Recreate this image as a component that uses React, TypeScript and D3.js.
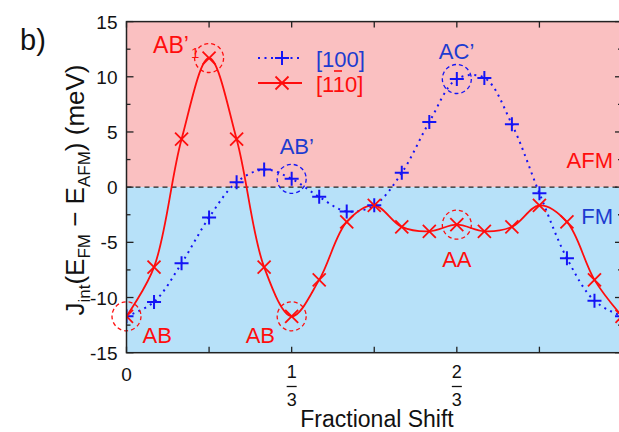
import React, { useEffect } from "react";
import * as d3 from "d3";

const shifts = [0, 1 / 18, 2 / 18, 3 / 18, 4 / 18, 5 / 18, 6 / 18, 7 / 18, 8 / 18, 9 / 18, 10 / 18, 11 / 18, 12 / 18, 13 / 18, 14 / 18, 15 / 18, 16 / 18, 17 / 18, 1];
const j100 = [-11.7, -10.4, -6.9, -2.75, 0.45, 1.6, 0.75, -0.88, -2.2, -1.65, 1.3, 5.9, 9.8, 9.9, 5.7, -0.55, -6.45, -10.3, -11.7];
const j1m10 = [-11.7, -7.25, 4.35, 11.7, 4.35, -7.25, -11.7, -8.4, -3.15, -1.65, -3.6, -4.0, -3.4, -4.0, -3.6, -1.65, -3.15, -8.4, -11.7];
const yTicks = [-15, -10, -5, 0, 5, 10, 15];
const yMinorTicks = [-12.5, -7.5, -2.5, 2.5, 7.5, 12.5];
const xTicks = [0, 1 / 6, 1 / 3, 1 / 2, 2 / 3, 5 / 6, 1];
const xFracLabels = [{ v: 1 / 3, num: "1", den: "3" }, { v: 2 / 3, num: "2", den: "3" }];
const seriesNames = ["[100]", "[110]"];

const W = 619, H = 432;
const FONT = "'Liberation Sans', Arial, Helvetica, sans-serif";
const RED = "#ff0d0d";
const BLUE = "#1414f5";
const BLUE_TXT = "#1c3cd0";
const PINK_BG = "#fac0c1";
const BLUE_BG = "#b7e1f9";

export default function App() {
  useEffect(() => {
    document.body.style.margin = "0";
  }, []);
  const x = d3.scaleLinear().domain([0, 1]).range([126.5, 622]);
  const y = d3.scaleLinear().domain([-15, 15]).range([352.7, 21.6]);
  const line = d3
    .line<number>()
    .x((_, i) => x(shifts[i]))
    .y((d) => y(d))
    .curve(d3.curveCatmullRom.alpha(0.5));

  const left = x(0), right = x(1), top = y(15), bottom = y(-15);

  const cross = (cx: number, cy: number, k: string) => (
    <g key={k} stroke={RED} strokeWidth={1.8}>
      <line x1={cx - 6.5} y1={cy - 6.5} x2={cx + 6.5} y2={cy + 6.5} />
      <line x1={cx - 6.5} y1={cy + 6.5} x2={cx + 6.5} y2={cy - 6.5} />
    </g>
  );
  const plus = (cx: number, cy: number, k: string) => (
    <g key={k} stroke={BLUE} strokeWidth={2}>
      <line x1={cx - 7} y1={cy} x2={cx + 7} y2={cy} />
      <line x1={cx} y1={cy - 7} x2={cx} y2={cy + 7} />
    </g>
  );
  const circ = (i: number, arr: number[], color: string, k: string) => (
    <circle key={k} cx={x(shifts[i])} cy={y(arr[i])} r={14.5} fill="none" stroke={color} strokeWidth={1.3} strokeDasharray="4 3" />
  );

  return (
    <svg width={W} height={H} style={{ position: "absolute", left: 0, top: 0, background: "#fff" }} fontFamily={FONT}>
      <defs>
        <clipPath id="plot">
          <rect x={left} y={top} width={right - left} height={bottom - top} />
        </clipPath>
      </defs>
      <rect x={left} y={top} width={right - left} height={y(0) - top} fill={PINK_BG} />
      <rect x={left} y={y(0)} width={right - left} height={bottom - y(0)} fill={BLUE_BG} />
      <line x1={left} x2={right} y1={y(0)} y2={y(0)} stroke="#222" strokeWidth={1.2} strokeDasharray="5 4" />

      <g clipPath="url(#plot)">
        <path d={line(j100) || ""} fill="none" stroke={BLUE} strokeWidth={2} strokeDasharray="2 4.5" />
        <path d={line(j1m10) || ""} fill="none" stroke={RED} strokeWidth={1.8} />
        {j100.map((v, i) => plus(x(shifts[i]), y(v), "p" + i))}
        {j1m10.map((v, i) => cross(x(shifts[i]), y(v), "c" + i))}
      </g>
      {circ(3, j1m10, RED, "c1")}
      {circ(6, j100, BLUE, "c2")}
      {circ(12, j100, BLUE, "c3")}
      {circ(0, j1m10, RED, "c4")}
      {circ(6, j1m10, RED, "c5")}
      {circ(12, j1m10, RED, "c6")}

      {/* frame and ticks */}
      <rect x={left} y={top} width={right - left} height={bottom - top} fill="none" stroke="#222" strokeWidth={1.5} />
      {yTicks.map((t) => (
        <g key={"yt" + t} stroke="#222" strokeWidth={1.3}>
          <line x1={left} x2={left + 7} y1={y(t)} y2={y(t)} />
          <line x1={right} x2={right - 7} y1={y(t)} y2={y(t)} />
        </g>
      ))}
      {yMinorTicks.map((t) => (
        <g key={"ym" + t} stroke="#222" strokeWidth={1.3}>
          <line x1={left} x2={left + 4} y1={y(t)} y2={y(t)} />
          <line x1={right} x2={right - 4} y1={y(t)} y2={y(t)} />
        </g>
      ))}
      {xTicks.map((t) => (
        <g key={"xt" + t} stroke="#222" strokeWidth={1.3}>
          <line x1={x(t)} x2={x(t)} y1={top} y2={top + 6} />
          <line x1={x(t)} x2={x(t)} y1={bottom} y2={bottom - 6} />
        </g>
      ))}
      {yTicks.map((t) => (
        <text key={"yl" + t} x={left - 9} y={y(t) + 7} textAnchor="end" fontSize={19} fill="#111">
          {t}
        </text>
      ))}
      <text x={x(0)} y={381} textAnchor="middle" fontSize={19} fill="#111">0</text>
      {xFracLabels.map((f) => (
        <g key={"xf" + f.num} fill="#111">
          <text x={x(f.v)} y={378} textAnchor="middle" fontSize={18}>{f.num}</text>
          <line x1={x(f.v) - 5} x2={x(f.v) + 5} y1={386.5} y2={386.5} stroke="#111" strokeWidth={1.3} />
          <text x={x(f.v)} y={405.5} textAnchor="middle" fontSize={18}>{f.den}</text>
        </g>
      ))}

      {/* axis titles */}
      <text x={377} y={427} textAnchor="middle" fontSize={23} fill="#111">Fractional Shift</text>
      <text transform="translate(84,190) rotate(-90)" textAnchor="middle" fontSize={26} fill="#111">
        J<tspan fontSize={17} dy={6}>int</tspan>
        <tspan dy={-6}>(E</tspan>
        <tspan fontSize={17} dy={6}>FM</tspan>
        <tspan dy={-6}> − E</tspan>
        <tspan fontSize={17} dy={6}>AFM</tspan>
        <tspan dy={-6}>) (meV)</tspan>
      </text>
      <text x={20} y={50} fontSize={29} fill="#111">b)</text>

      {/* annotations */}
      <text x={x(shifts[3]) - 56} y={53} fontSize={23} fill={RED}>AB’</text>
      <text x={x(shifts[3]) - 18} y={58} fontSize={15} fill={RED}>1</text>
      <text x={x(shifts[6]) - 12} y={154} fontSize={22} fill={BLUE_TXT}>AB’</text>
      <text x={x(shifts[12]) - 18} y={59} fontSize={22} fill={BLUE_TXT}>AC’</text>
      <text x={x(shifts[0]) + 16} y={343} fontSize={22} fill={RED}>AB</text>
      <text x={x(shifts[6]) - 46} y={343} fontSize={22} fill={RED}>AB</text>
      <text x={x(shifts[12])} y={267} textAnchor="middle" fontSize={22} fill={RED}>AA</text>
      <text x={613} y={168} textAnchor="end" fontSize={22} fill={RED}>AFM</text>
      <text x={613} y={224} textAnchor="end" fontSize={22} fill={BLUE_TXT}>FM</text>

      {/* legend */}
      <line x1={258} x2={302} y1={58} y2={58} stroke={BLUE} strokeWidth={2} strokeDasharray="2 4.5" />
      {plus(282, 58, "lp")}
      <text x={316} y={67} fontSize={22} fill={BLUE_TXT}>{seriesNames[0]}</text>
      <line x1={258} x2={302} y1={83} y2={83} stroke={RED} strokeWidth={1.8} />
      {cross(282, 83, "lc")}
      <text x={316} y={92} fontSize={22} fill={RED}>{seriesNames[1]}</text>
      <line x1={334} x2={342} y1={71} y2={71} stroke={RED} strokeWidth={1.6} />
    </svg>
  );
}
